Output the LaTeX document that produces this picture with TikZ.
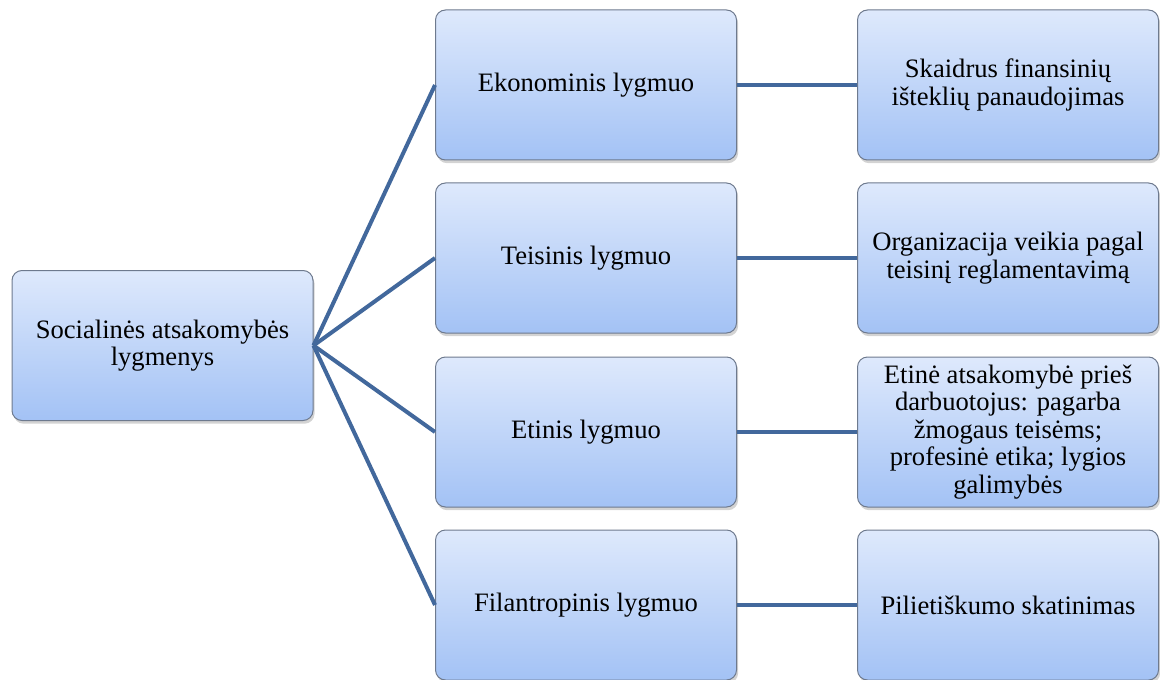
\documentclass[tikz,border=0pt]{standalone}
\usepackage{fontspec}
\setmainfont{Liberation Serif}
\usepackage{tikz}
\usetikzlibrary{shadows}
\definecolor{lvl_top}{RGB}{222, 233, 252}
\definecolor{lvl_bottom}{RGB}{163, 194, 245}
\definecolor{lvl_edge}{RGB}{110, 122, 142}
\definecolor{lvl_line}{RGB}{66, 104, 156}
\tikzset{
  lvlbox/.style={rectangle, rounded corners=5pt, draw=lvl_edge, line width=0.5pt,
    top color=lvl_top, bottom color=lvl_bottom,
    minimum width=150.5pt, minimum height=75pt, align=center,
    font=\fontsize{13.3}{13.7}\selectfont,
    drop shadow={opacity=0.35, shadow xshift=0.8pt, shadow yshift=-1.6pt}},
  lvllink/.style={draw=lvl_line, line width=2pt}
}

\begin{document}
\begin{tikzpicture}[x=0.5pt, y=-0.5pt]
  \useasboundingbox (0,0) rectangle (1160,679);
  % kairysis blokas
  \node[lvlbox] (soc) at (162.5, 345.5) {Socialinės atsakomybės\\lygmenys};
  % lygmenys
  \node[lvlbox] (eko) at (586,  85)   {Ekonominis lygmuo};
  \node[lvlbox] (tei) at (586,  258)  {Teisinis lygmuo};
  \node[lvlbox] (eti) at (586,  432)  {Etinis lygmuo};
  \node[lvlbox] (fil) at (586,  605)  {Filantropinis lygmuo};
  % pavyzdziai
  \node[lvlbox] (eko_r) at (1008, 85)  {Skaidrus finansinių\\išteklių panaudojimas};
  \node[lvlbox] (tei_r) at (1008, 258) {Organizacija veikia pagal\\teisinį reglamentavimą};
  \node[lvlbox] (eti_r) at (1008, 432) {Etinė atsakomybė prieš\\darbuotojus: pagarba\\žmogaus teisėms;\\profesinė etika; lygios\\galimybės};
  \node[lvlbox] (fil_r) at (1008, 605) {Pilietiškumo skatinimas};
  % jungtys
  \draw[lvllink] (soc.east) -- (eko.west);
  \draw[lvllink] (soc.east) -- (tei.west);
  \draw[lvllink] (soc.east) -- (eti.west);
  \draw[lvllink] (soc.east) -- (fil.west);
  \draw[lvllink] (eko.east) -- (eko_r.west);
  \draw[lvllink] (tei.east) -- (tei_r.west);
  \draw[lvllink] (eti.east) -- (eti_r.west);
  \draw[lvllink] (fil.east) -- (fil_r.west);
\end{tikzpicture}
\end{document}
